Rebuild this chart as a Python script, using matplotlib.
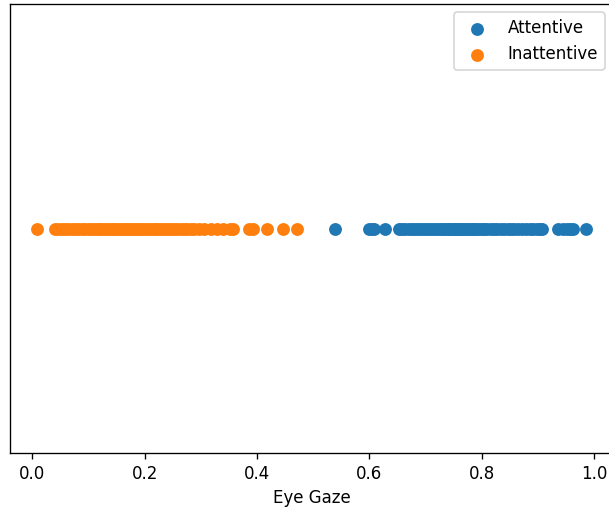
import matplotlib
matplotlib.use("Agg")
import matplotlib.pyplot as plt

# Valores de "Eye Gaze"
attentive = [0.538, 0.600, 0.604, 0.609, 0.627, 0.652, 0.658, 0.663, 0.670, 0.676,
             0.681, 0.687, 0.692, 0.698, 0.703, 0.708, 0.713, 0.719, 0.724, 0.729,
             0.733, 0.738, 0.742, 0.746, 0.750, 0.753, 0.757, 0.761, 0.765, 0.769,
             0.773, 0.778, 0.782, 0.786, 0.790, 0.795, 0.800, 0.805, 0.810, 0.816,
             0.822, 0.828, 0.834, 0.840, 0.846, 0.852, 0.858, 0.865, 0.872, 0.879,
             0.886, 0.892, 0.898, 0.904, 0.908, 0.936, 0.944, 0.952, 0.957, 0.962,
             0.985]

inattentive = [0.009, 0.040, 0.046, 0.052, 0.058, 0.064, 0.070, 0.076, 0.082, 0.088,
               0.094, 0.100, 0.106, 0.111, 0.116, 0.121, 0.126, 0.131, 0.136, 0.141,
               0.146, 0.151, 0.156, 0.161, 0.166, 0.171, 0.176, 0.181, 0.186, 0.191,
               0.196, 0.201, 0.206, 0.211, 0.216, 0.221, 0.226, 0.231, 0.236, 0.241,
               0.246, 0.252, 0.258, 0.264, 0.270, 0.276, 0.282, 0.288, 0.296, 0.305,
               0.318, 0.328, 0.340, 0.352, 0.358, 0.385, 0.392, 0.418, 0.446, 0.472]

dpi = 120
fig = plt.figure(figsize=(609 / dpi, 510 / dpi), dpi=dpi)
# el borde derecho del eje queda justo fuera de la imagen, como en el original
ax = fig.add_axes([10 / 609, 57 / 510, 603 / 609, 449 / 510])

ax.scatter(attentive, [0] * len(attentive), s=45, label="Attentive")
ax.scatter(inattentive, [0] * len(inattentive), s=45, label="Inattentive")

ax.set_xlabel("Eye Gaze")
ax.set_yticks([])
ax.legend(loc="upper right")

fig.savefig("out.png", dpi=dpi)
